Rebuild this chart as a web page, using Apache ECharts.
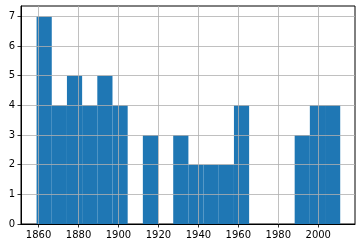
<!DOCTYPE html>
<html><head><meta charset="utf-8">
<script src="https://cdn.jsdelivr.net/npm/echarts@6/dist/echarts.min.js"></script>
<style>html,body{margin:0;padding:0;background:#fff}#c{width:362px;height:248px}</style>
</head><body><div id="c"></div>
<script>
// Histogram bin edges (years)
const binEdges = [1859, 1866.6, 1874.2, 1881.8, 1889.4, 1897, 1904.6, 1912.2, 1919.8, 1927.4, 1935,
  1942.6, 1950.2, 1957.8, 1965.4, 1973, 1980.6, 1988.2, 1995.8, 2003.4, 2011];
// Counts per bin
const counts = [7, 4, 5, 4, 5, 4, 0, 3, 0, 3, 2, 2, 2, 4, 0, 0, 0, 3, 4, 4];
const xTicks = [1860, 1880, 1900, 1920, 1940, 1960, 1980, 2000];
const yTicks = [0, 1, 2, 3, 4, 5, 6, 7];

const data = counts.map((c, i) => [binEdges[i], binEdges[i + 1], c]);

const chart = echarts.init(document.getElementById('c'), null, {renderer: 'canvas'});
const labelStyle = {color: '#000', fontSize: 10, fontFamily: 'DejaVu Sans', formatter: v => String(v)};
chart.setOption({
  animation: false,
  grid: {left: 21, right: 7, top: 6, bottom: 24, show: true, borderColor: '#000', borderWidth: 1, backgroundColor: 'transparent'},
  xAxis: {
    type: 'value', min: 1851.2, max: 2018.4, minInterval: 20, maxInterval: 20, z: 10,
    axisLine: {show: true, onZero: false, lineStyle: {color: '#000', width: 1}},
    axisTick: {show: true, length: 3.5, lineStyle: {color: '#000', width: 0.8}, customValues: xTicks},
    axisLabel: Object.assign({margin: 6, customValues: xTicks}, labelStyle),
    splitLine: {show: true, lineStyle: {color: '#b0b0b0', width: 0.8}}
  },
  yAxis: {
    type: 'value', min: 0, max: 7.35, interval: 1, z: 10,
    axisLine: {show: true, lineStyle: {color: '#000', width: 1}},
    axisTick: {show: true, length: 3.5, lineStyle: {color: '#000', width: 0.8}, customValues: yTicks},
    axisLabel: Object.assign({margin: 6, customValues: yTicks}, labelStyle),
    splitLine: {show: true, lineStyle: {color: '#b0b0b0', width: 0.8}}
  },
  series: [{
    type: 'custom',
    z: 2,
    data: data,
    encode: {x: [0, 1], y: 2},
    renderItem: function (params, api) {
      const p0 = api.coord([api.value(0), api.value(2)]);
      const p1 = api.coord([api.value(1), 0]);
      return {
        type: 'rect',
        shape: {x: p0[0], y: p0[1], width: p1[0] - p0[0], height: p1[1] - p0[1]},
        style: {fill: '#1f77b4', stroke: null}
      };
    }
  }]
});
</script></body></html>
